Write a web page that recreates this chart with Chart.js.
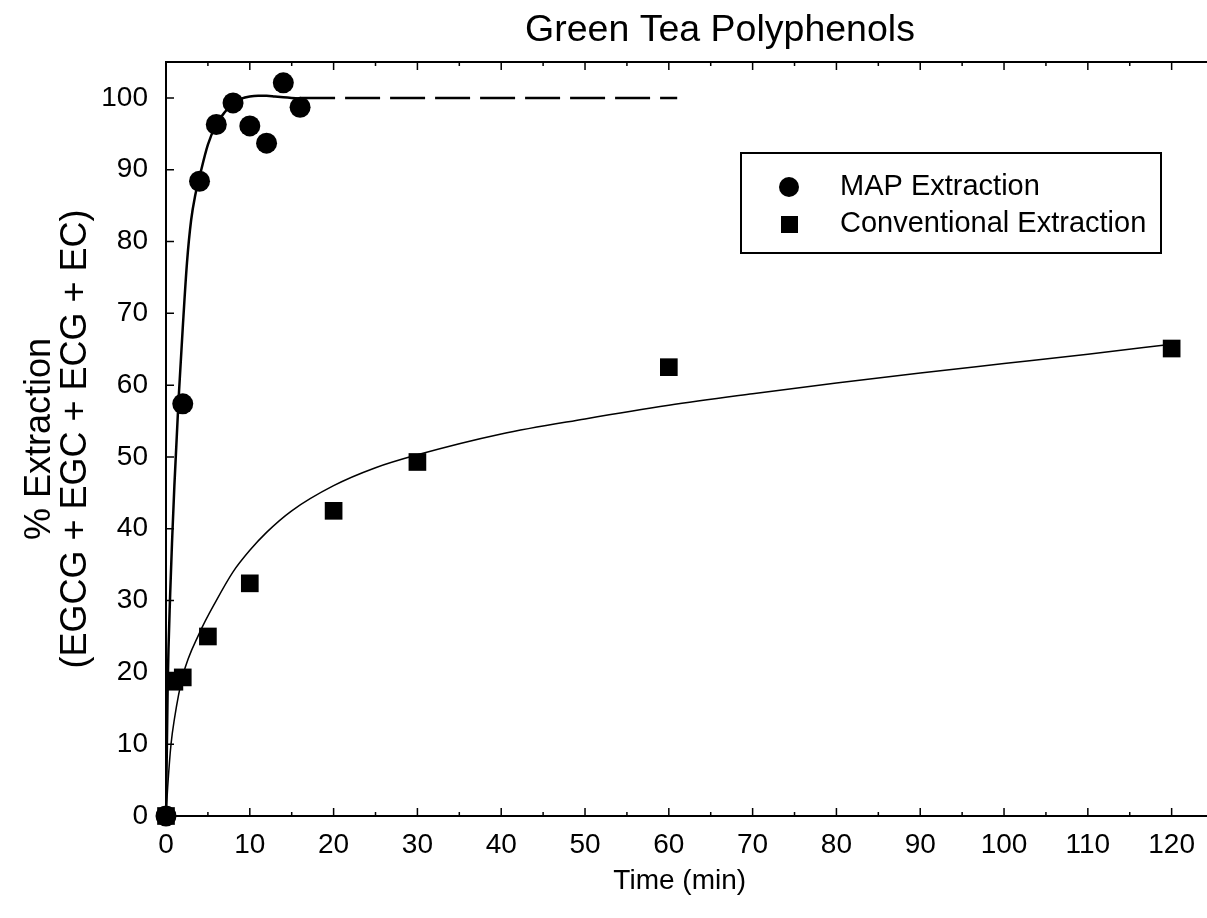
<!DOCTYPE html>
<html>
<head>
<meta charset="utf-8">
<script src="https://cdn.jsdelivr.net/npm/chart.js@4/dist/chart.umd.min.js"></script>
<style>
  html, body { margin: 0; padding: 0; background: #fff; }
  #wrap { width: 1207px; height: 918px; }
</style>
</head>
<body>
<div id="wrap"><canvas id="teaChart" width="1207" height="918"></canvas></div>
<script>
// measured points
const mapTime = [0, 2, 4, 6, 8, 10, 12, 14, 16];
const mapExtraction = [0, 57.4, 88.4, 96.3, 99.3, 96.1, 93.7, 102.1, 98.7];
const convTime = [0, 1, 2, 5, 10, 20, 30, 60, 120];
const convExtraction = [0, 18.7, 19.3, 25.0, 32.4, 42.5, 49.3, 62.5, 65.1];

// fitted curves
const mapFitTime = [0, 0.2, 0.5, 0.75, 1, 1.5, 2, 2.5, 3, 3.5, 4, 5, 6, 7, 8, 9, 10, 11, 12, 13, 14, 15, 16];
const mapFitValue = [0, 18, 31, 39, 46, 58, 68, 77, 83, 86.5, 89, 93.5, 96.3, 98, 99.2, 99.9, 100.2, 100.3, 100.3, 100.2, 100.1, 100, 99.9];
const plateauTime = [16, 61];
const plateauValue = [100, 100];
const convFitTime = [0, 0.2, 0.6, 1, 2, 4, 6, 8, 10, 12, 15, 20, 25, 30, 40, 50, 60, 70, 80, 90, 100, 110, 120];
const convFitValue = [0, 4, 10, 13.5, 19.5, 25.5, 30, 34, 37, 39.5, 42.5, 46, 48.5, 50.3, 53.2, 55.3, 57.2, 58.8, 60.3, 61.7, 63, 64.3, 65.7];

const xTicks = [0, 10, 20, 30, 40, 50, 60, 70, 80, 90, 100, 110, 120];
const yTicks = [0, 10, 20, 30, 40, 50, 60, 70, 80, 90, 100];

const FONT = "'Liberation Sans', Arial, sans-serif";

function pts(xs, ys) {
    return xs.map((x, i) => ({ x: x, y: ys[i] }));
}

// frame, inward ticks, title and legend
const framePlugin = {
    id: 'frame',
    afterDraw(chart) {
        const ctx = chart.ctx;
        const a = chart.chartArea;
        const xs = chart.scales.x;
        const ys = chart.scales.y;
        const right = chart.width;
        ctx.save();
        ctx.strokeStyle = '#000';
        ctx.lineWidth = 2;
        ctx.beginPath();
        ctx.moveTo(a.left, a.bottom);
        ctx.lineTo(a.left, a.top);
        ctx.lineTo(right, a.top);
        ctx.moveTo(a.left, a.bottom);
        ctx.lineTo(right, a.bottom);
        ctx.stroke();

        ctx.lineWidth = 1.5;
        ctx.beginPath();
        for (let v = 0; v <= 120; v += 5) {
            const px = xs.getPixelForValue(v);
            const len = v % 10 === 0 ? 8 : 4;
            ctx.moveTo(px, a.bottom);
            ctx.lineTo(px, a.bottom - len);
            ctx.moveTo(px, a.top);
            ctx.lineTo(px, a.top + len);
        }
        yTicks.forEach(v => {
            const py = ys.getPixelForValue(v);
            ctx.moveTo(a.left, py);
            ctx.lineTo(a.left + 8, py);
        });
        ctx.stroke();

        ctx.fillStyle = '#000';
        ctx.font = '37.5px ' + FONT;
        ctx.textAlign = 'center';
        ctx.textBaseline = 'middle';
        ctx.fillText('Green Tea Polyphenols', 720, 31);

        // legend
        ctx.lineWidth = 2;
        ctx.strokeRect(741, 153, 420, 100);
        ctx.font = '29px ' + FONT;
        ctx.textAlign = 'left';
        const items = [chart.data.datasets[0], chart.data.datasets[1]];
        items.forEach((ds, i) => {
            const cy = 187 + i * 37;
            if (ds.pointStyle === 'circle') {
                ctx.beginPath();
                ctx.arc(789, cy, 10, 0, Math.PI * 2);
                ctx.fill();
            } else {
                ctx.fillRect(781, cy - 8, 17, 17);
            }
            ctx.fillText(ds.label, 840, cy);
        });
        ctx.restore();
    }
};

new Chart(document.getElementById('teaChart'), {
    type: 'scatter',
    data: {
        datasets: [
            {
                label: 'MAP Extraction',
                data: pts(mapTime, mapExtraction),
                pointStyle: 'circle',
                pointRadius: 10.5,
                backgroundColor: '#000',
                borderColor: '#000',
                borderWidth: 0,
                clip: false,
            },
            {
                label: 'Conventional Extraction',
                data: pts(convTime, convExtraction),
                pointStyle: 'rect',
                pointRadius: 12.5,
                backgroundColor: '#000',
                borderColor: '#000',
                borderWidth: 0,
                clip: false,
            },
            {
                type: 'line',
                label: 'MAP fit',
                data: pts(mapFitTime, mapFitValue),
                borderColor: '#000',
                borderWidth: 2.5,
                pointRadius: 0,
                cubicInterpolationMode: 'monotone',
                fill: false,
            },
            {
                type: 'line',
                label: 'MAP plateau',
                data: pts(plateauTime, plateauValue),
                borderColor: '#000',
                borderWidth: 2.5,
                borderDash: [35, 10],
                pointRadius: 0,
                fill: false,
            },
            {
                type: 'line',
                label: 'Conventional fit',
                data: pts(convFitTime, convFitValue),
                borderColor: '#000',
                borderWidth: 1.5,
                pointRadius: 0,
                cubicInterpolationMode: 'monotone',
                fill: false,
                clip: false,
            },
        ],
    },
    options: {
        responsive: false,
        animation: false,
        layout: { autoPadding: false, padding: { top: 62, right: 0, left: 0, bottom: 0 } },
        plugins: {
            legend: { display: false },
            tooltip: { enabled: false },
        },
        scales: {
            x: {
                type: 'linear',
                min: 0,
                max: 122.6,
                afterFit: s => { s.height = 102; },
                afterBuildTicks: s => { s.ticks = xTicks.map(v => ({ value: v })); },
                grid: { display: false, drawTicks: false },
                border: { display: false },
                ticks: {
                    color: '#000',
                    font: { family: FONT, size: 28 },
                    padding: 12,
                    maxRotation: 0,
                    autoSkip: false,
                },
                title: {
                    display: true,
                    text: 'Time (min)',
                    color: '#000',
                    font: { family: FONT, size: 28 },
                    padding: { bottom: 20 },
                },
            },
            y: {
                min: 0,
                max: 105,
                afterFit: s => { s.width = 166; },
                afterBuildTicks: s => { s.ticks = yTicks.map(v => ({ value: v })); },
                grid: { display: false, drawTicks: false },
                border: { display: false },
                ticks: {
                    color: '#000',
                    font: { family: FONT, size: 28 },
                    padding: 18,
                },
                title: {
                    display: true,
                    text: ['% Extraction', '(EGCG + EGC + ECG + EC)'],
                    color: '#000',
                    font: { family: FONT, size: 36, lineHeight: 1.0 },
                    padding: { top: 22 },
                },
            },
        },
    },
    plugins: [framePlugin],
});
</script>
</body>
</html>
